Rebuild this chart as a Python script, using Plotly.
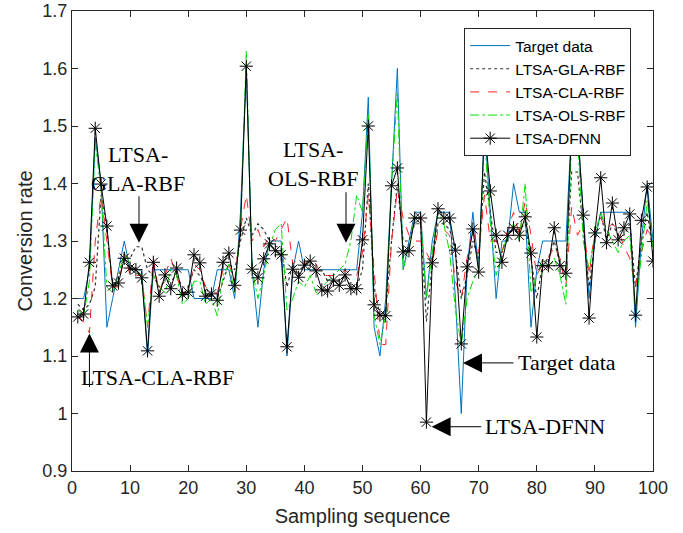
import plotly.graph_objects as go

samples = list(range(1, 101))

target = [1.20, 1.20, 1.25, 1.48, 1.40, 1.15, 1.20, 1.25, 1.30, 1.25,
          1.25, 1.25, 1.10, 1.25, 1.25, 1.25, 1.25, 1.25, 1.25, 1.25,
          1.20, 1.20, 1.20, 1.20, 1.25, 1.25, 1.25, 1.20, 1.35, 1.60,
          1.25, 1.15, 1.25, 1.30, 1.30, 1.30, 1.10, 1.25, 1.30, 1.25,
          1.25, 1.25, 1.25, 1.25, 1.25, 1.25, 1.25, 1.25, 1.25, 1.35,
          1.55, 1.15, 1.10, 1.20, 1.40, 1.60, 1.25, 1.30, 1.35, 1.35,
          1.20, 1.30, 1.35, 1.35, 1.35, 1.20, 1.00, 1.25, 1.35, 1.25,
          1.50, 1.35, 1.20, 1.30, 1.30, 1.40, 1.35, 1.35, 1.15, 1.25,
          1.30, 1.30, 1.30, 1.30, 1.30, 1.50, 1.50, 1.35, 1.20, 1.30,
          1.35, 1.35, 1.35, 1.35, 1.35, 1.35, 1.15, 1.30, 1.40, 1.30]

gla = [1.19, 1.18, 1.19, 1.22, 1.38, 1.32, 1.22, 1.24, 1.27, 1.27,
       1.29, 1.29, 1.25, 1.24, 1.22, 1.23, 1.23, 1.24, 1.22, 1.22,
       1.25, 1.24, 1.22, 1.20, 1.20, 1.23, 1.26, 1.25, 1.30, 1.34,
       1.31, 1.33, 1.32, 1.30, 1.29, 1.29, 1.22, 1.26, 1.24, 1.26,
       1.25, 1.25, 1.25, 1.23, 1.23, 1.23, 1.24, 1.22, 1.22, 1.25,
       1.40, 1.22, 1.17, 1.18, 1.30, 1.40, 1.30, 1.30, 1.33, 1.33,
       1.16, 1.26, 1.33, 1.33, 1.32, 1.28, 1.20, 1.24, 1.30, 1.27,
       1.42, 1.35, 1.28, 1.28, 1.31, 1.32, 1.32, 1.33, 1.27, 1.20,
       1.26, 1.27, 1.30, 1.26, 1.25, 1.42, 1.42, 1.32, 1.22, 1.30,
       1.35, 1.30, 1.33, 1.31, 1.31, 1.33, 1.22, 1.30, 1.35, 1.28]

cla = [1.17, 1.16, 1.14, 1.30, 1.38, 1.30, 1.22, 1.22, 1.28, 1.24,
       1.24, 1.24, 1.15, 1.27, 1.21, 1.24, 1.27, 1.24, 1.21, 1.21,
       1.26, 1.25, 1.22, 1.21, 1.21, 1.25, 1.26, 1.23, 1.32, 1.38,
       1.30, 1.32, 1.29, 1.31, 1.30, 1.32, 1.34, 1.26, 1.27, 1.26,
       1.27, 1.26, 1.24, 1.24, 1.24, 1.24, 1.25, 1.24, 1.24, 1.28,
       1.38, 1.25, 1.12, 1.12, 1.30, 1.39, 1.34, 1.31, 1.30, 1.30,
       1.28, 1.26, 1.32, 1.32, 1.31, 1.23, 1.20, 1.27, 1.32, 1.28,
       1.38, 1.30, 1.30, 1.28, 1.32, 1.35, 1.31, 1.37, 1.31, 1.24,
       1.26, 1.27, 1.29, 1.27, 1.22, 1.36, 1.31, 1.33, 1.24, 1.32,
       1.34, 1.32, 1.33, 1.32, 1.29, 1.27, 1.22, 1.28, 1.32, 1.30]

ols = [1.18, 1.17, 1.23, 1.47, 1.39, 1.22, 1.21, 1.24, 1.28, 1.26,
       1.25, 1.24, 1.15, 1.24, 1.22, 1.21, 1.25, 1.24, 1.19, 1.20,
       1.23, 1.23, 1.19, 1.20, 1.17, 1.24, 1.26, 1.21, 1.32, 1.63,
       1.25, 1.20, 1.24, 1.29, 1.32, 1.33, 1.18, 1.20, 1.23, 1.22,
       1.24, 1.21, 1.22, 1.23, 1.24, 1.25, 1.26, 1.30, 1.38, 1.35,
       1.52, 1.17, 1.12, 1.17, 1.40, 1.56, 1.25, 1.29, 1.34, 1.34,
       1.20, 1.28, 1.35, 1.33, 1.28, 1.18, 1.12, 1.20, 1.23, 1.25,
       1.48, 1.33, 1.24, 1.28, 1.31, 1.33, 1.30, 1.40, 1.21, 1.24,
       1.27, 1.25, 1.27, 1.24, 1.19, 1.48, 1.48, 1.30, 1.25, 1.31,
       1.35, 1.32, 1.30, 1.28, 1.30, 1.31, 1.18, 1.28, 1.37, 1.29]

dfnn = [1.168, 1.173, 1.263, 1.496, 1.399, 1.326, 1.222, 1.227, 1.270, 1.253,
        1.250, 1.236, 1.109, 1.263, 1.204, 1.241, 1.217, 1.253, 1.207, 1.211,
        1.276, 1.262, 1.204, 1.208, 1.197, 1.263, 1.279, 1.223, 1.319, 1.604,
        1.251, 1.236, 1.269, 1.295, 1.283, 1.276, 1.116, 1.251, 1.237, 1.258,
        1.265, 1.248, 1.215, 1.213, 1.232, 1.223, 1.241, 1.217, 1.217, 1.302,
        1.500, 1.189, 1.171, 1.170, 1.396, 1.427, 1.281, 1.283, 1.340, 1.340,
        0.985, 1.262, 1.356, 1.340, 1.340, 1.284, 1.121, 1.255, 1.321, 1.246,
        1.500, 1.387, 1.310, 1.263, 1.310, 1.323, 1.310, 1.342, 1.279, 1.133,
        1.257, 1.257, 1.323, 1.257, 1.244, 1.500, 1.500, 1.345, 1.166, 1.314,
        1.410, 1.297, 1.366, 1.302, 1.323, 1.347, 1.171, 1.336, 1.394, 1.265]

x_ticks = [0, 10, 20, 30, 40, 50, 60, 70, 80, 90, 100]
y_ticks = [0.9, 1.0, 1.1, 1.2, 1.3, 1.4, 1.5, 1.6, 1.7]
y_tick_labels = ["0.9", "1", "1.1", "1.2", "1.3", "1.4", "1.5", "1.6", "1.7"]

fig = go.Figure()
fig.add_trace(go.Scatter(x=samples, y=target, mode="lines", name="Target data",
                         line=dict(color="#0072BD", width=1)))
fig.add_trace(go.Scatter(x=samples, y=gla, mode="lines", name="LTSA-GLA-RBF",
                         line=dict(color="#333333", width=1.2, dash="dot")))
fig.add_trace(go.Scatter(x=samples, y=cla, mode="lines", name="LTSA-CLA-RBF",
                         line=dict(color="#FF2020", width=1, dash="dash")))
fig.add_trace(go.Scatter(x=samples, y=ols, mode="lines", name="LTSA-OLS-RBF",
                         line=dict(color="#00E000", width=1, dash="dashdot")))
fig.add_trace(go.Scatter(x=samples, y=dfnn, mode="lines+markers", name="LTSA-DFNN",
                         line=dict(color="black", width=1),
                         marker=dict(symbol="asterisk-open", size=11,
                                     line=dict(color="black", width=1))))

serif = "Liberation Serif, Times New Roman, serif"
ann_font = dict(family=serif, size=22, color="black")
sans = "Liberation Sans, Arial, sans-serif"

annotations = []
arrows = [
    dict(x=11.53, y=1.297, ax=0, ay=-48),   # GLA
    dict(x=47.16, y=1.297, ax=0, ay=-52),   # OLS
    dict(x=3.0, y=1.139, ax=0, ay=55),      # CLA
    dict(x=67.3, y=1.088, ax=52, ay=0),     # Target
    dict(x=61.9, y=0.977, ax=51, ay=0),     # DFNN
]
for a in arrows:
    annotations.append(dict(x=a["x"], y=a["y"], xref="x", yref="y",
                            ax=a["ax"], ay=a["ay"], axref="pixel", ayref="pixel",
                            text="", showarrow=True, arrowhead=2, arrowsize=3.8,
                            arrowwidth=1, arrowcolor="black"))
texts = [
    dict(x=11.4, y=1.425, t="LTSA-<br>GLA-RBF", xa="center"),
    dict(x=41.5, y=1.434, t="LTSA-<br>OLS-RBF", xa="center"),
    dict(x=14.8, y=1.062, t="LTSA-CLA-RBF", xa="center"),
    dict(x=76.4, y=1.088, t="Target data", xa="left"),
    dict(x=70.7, y=0.977, t="LTSA-DFNN", xa="left"),
]
for t in texts:
    annotations.append(dict(x=t["x"], y=t["y"], xref="x", yref="y", text=t["t"],
                            showarrow=False, xanchor=t["xa"], yanchor="middle",
                            font=ann_font, align="center"))

axis_common = dict(showline=True, linecolor="#262626", linewidth=1, mirror="ticks",
                   ticks="inside", ticklen=6, tickcolor="#262626", showgrid=False,
                   zeroline=False, automargin=False,
                   tickfont=dict(family=sans, size=18, color="#262626"))

fig.update_layout(
    width=683, height=533,
    margin=dict(l=72, r=30, t=11, b=62),
    paper_bgcolor="white", plot_bgcolor="white",
    xaxis=dict(range=[0, 100], tickvals=x_ticks,
               title=dict(text="Sampling sequence", standoff=12,
                          font=dict(family=sans, size=20, color="#262626")),
               **axis_common),
    yaxis=dict(range=[0.9, 1.7], tickvals=y_ticks, ticktext=y_tick_labels,
               title=dict(text="Conversion rate", standoff=4,
                          font=dict(family=sans, size=20, color="#262626")),
               **axis_common),
    legend=dict(x=0.675, y=0.963, xanchor="left", yanchor="top",
                bgcolor="white", bordercolor="#262626", borderwidth=1,
                font=dict(family=sans, size=15.5, color="black"),
                itemwidth=40),
    annotations=annotations,
    showlegend=True,
)

fig.write_html("out.html")
